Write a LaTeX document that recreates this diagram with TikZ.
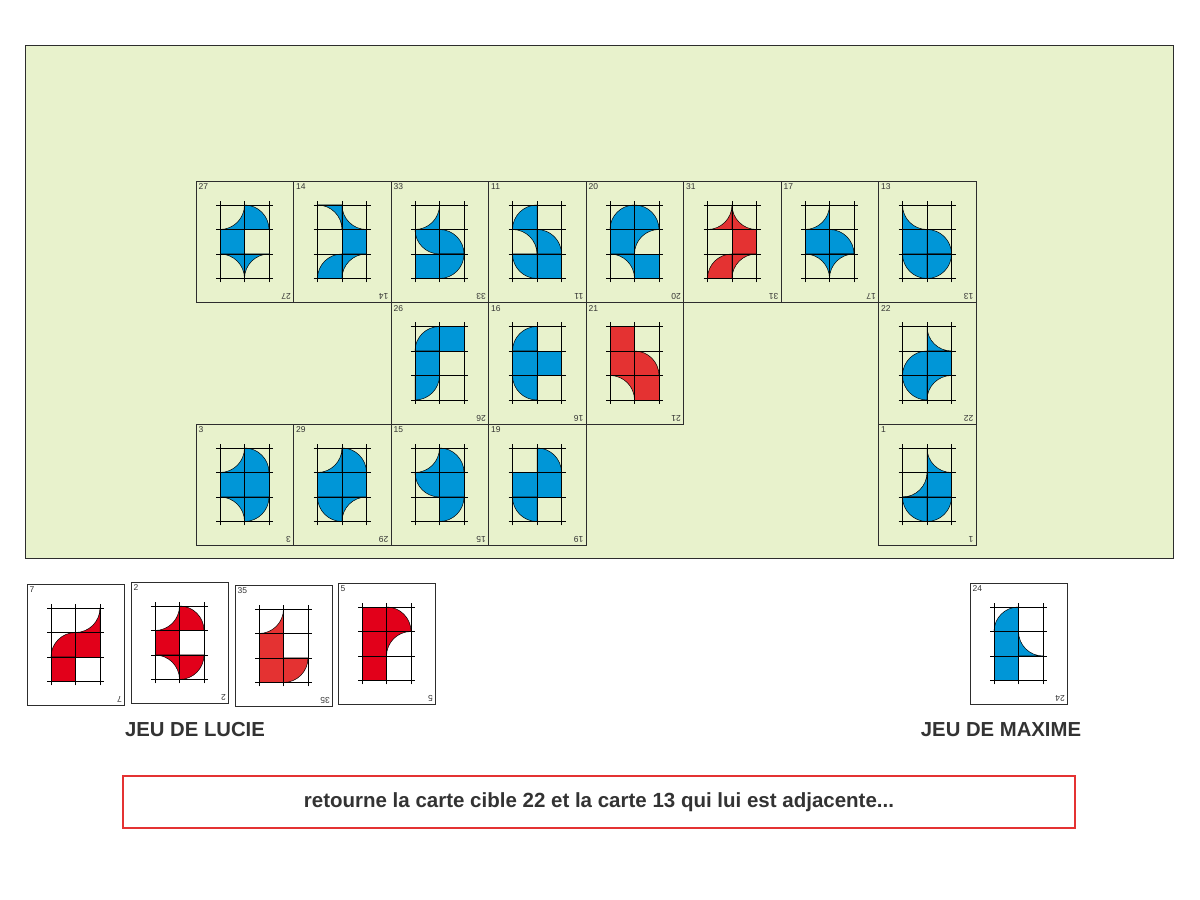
\documentclass[tikz,border=0pt]{standalone}
\usepackage{fontspec}
\setmainfont{Liberation Sans}
\definecolor{vert}{RGB}{232,242,204}
\definecolor{bleu}{RGB}{0,150,215}
\definecolor{rouge}{RGB}{228,50,50}
\definecolor{rougevif}{RGB}{226,0,26}
\definecolor{cadre}{RGB}{45,45,45}
\definecolor{texte}{RGB}{51,51,51}
\def\tc{24.5}
\def\vide{E}
% formes d'une case, coin bas gauche en (0,0)
\def\formeF{(0,0) rectangle (\tc,\tc)}
\def\formeQbl{(0,0) -- (\tc,0) arc[start angle=0,end angle=90,radius=\tc] -- cycle}
\def\formeQbr{(\tc,0) -- (\tc,\tc) arc[start angle=90,end angle=180,radius=\tc] -- cycle}
\def\formeQtl{(0,\tc) -- (0,0) arc[start angle=270,end angle=360,radius=\tc] -- cycle}
\def\formeQtr{(\tc,\tc) -- (\tc,0) arc[start angle=270,end angle=180,radius=\tc] -- cycle}
\def\formeCbl{(\tc,\tc) -- (0,\tc) arc[start angle=90,end angle=0,radius=\tc] -- cycle}
\def\formeCbr{(0,\tc) -- (0,0) arc[start angle=180,end angle=90,radius=\tc] -- cycle}
\def\formeCtl{(\tc,0) -- (\tc,\tc) arc[start angle=0,end angle=-90,radius=\tc] -- cycle}
\def\formeCtr{(0,0) -- (\tc,0) arc[start angle=270,end angle=180,radius=\tc] -- cycle}
\tikzset{
  carte/.style={draw=cadre, line width=.9pt, minimum width=97.5pt, minimum height=121.5pt,
    inner sep=0pt, outer sep=0pt, anchor=south west},
  numero/.style={text=texte, font=\fontsize{8.5}{9}\selectfont, inner sep=2.5pt},
  forme/.style={draw=black, line width=.5pt},
  grille/.style={draw=black, line width=.8pt},
  titre/.style={text=texte, font=\fontsize{20.3}{22}\selectfont\bfseries}
}
% \carte{x}{y}{numero}{fond}{couleur}{cases}
\newcommand{\carte}[6]{
  \begin{scope}[shift={(#1,#2)}]
    \node[carte, fill=#4] (c#3) at (0,0) {};
    \node[numero, anchor=north west] (h#3) at (c#3.north west) {#3};
    \node[numero, anchor=north west, rotate=180] (b#3) at (c#3.south east) {#3};
    \foreach \c [count=\i from 0] in {#6} {
      \pgfmathtruncatemacro\col{mod(\i,2)}
      \pgfmathtruncatemacro\lig{2-div(\i,2)}
      \ifx\c\vide\else
        \expandafter\let\expandafter\laforme\csname forme\c\endcsname
        \filldraw[forme, fill=#5, shift={(24+\col*\tc,24+\lig*\tc)}] \laforme;
      \fi
    }
    \foreach \x in {0,1,2}
      \draw[grille] (24+\x*\tc,20) -- (24+\x*\tc,101.5);
    \foreach \y in {0,1,2,3}
      \draw[grille] (20,24+\y*\tc) -- (77,24+\y*\tc);
  \end{scope}
}
\begin{document}
\begin{tikzpicture}[x=1pt,y=1pt]
	\useasboundingbox (0,0) rectangle (1200,900);
	\node[draw=cadre, line width=.6pt, fill=vert, minimum width=1148pt, minimum height=513pt,
	  inner sep=0pt, anchor=north west] (plateau) at (25,855) {};
	% premiere rangee
	\carte{196}{597.5}{27}{vert}{bleu}{Ctl,Qbl,F,E,Cbl,Cbr}
	\carte{293.5}{597.5}{14}{vert}{bleu}{Cbl,Ctr,E,F,Qbr,Cbr}
	\carte{391}{597.5}{33}{vert}{bleu}{Ctl,E,Qtr,Qbl,F,Qtl}
	\carte{488.5}{597.5}{11}{vert}{bleu}{Qbr,E,Cbl,Qbl,Qtr,F}
	\carte{586}{597.5}{20}{vert}{bleu}{Qbr,Qbl,F,Cbr,Cbl,F}
	\carte{683.5}{597.5}{31}{vert}{rouge}{Ctl,Ctr,E,F,Qbr,Cbr}
	\carte{781}{597.5}{17}{vert}{bleu}{Ctl,E,F,Qbl,Cbl,Cbr}
	\carte{878.5}{597.5}{13}{vert}{bleu}{Ctr,E,F,Qbl,Qtr,Qtl}
	% deuxieme rangee
	\carte{391}{476}{26}{vert}{bleu}{Qbr,F,F,E,Qtl,E}
	\carte{488.5}{476}{16}{vert}{bleu}{Qbr,E,F,F,Qtr,E}
	\carte{586}{476}{21}{vert}{rouge}{F,E,F,Qbl,Cbl,F}
	\carte{878.5}{476}{22}{vert}{bleu}{E,Ctr,Qbr,F,Qtr,Cbr}
	% troisieme rangee
	\carte{196}{354.5}{3}{vert}{bleu}{Ctl,Qbl,F,F,Cbl,Qtl}
	\carte{293.5}{354.5}{29}{vert}{bleu}{Ctl,Qbl,F,F,Qtr,Cbr}
	\carte{391}{354.5}{15}{vert}{bleu}{Ctl,Qbl,Qtr,F,E,Qtl}
	\carte{488.5}{354.5}{19}{vert}{bleu}{E,Qbl,F,F,Qtr,E}
	\carte{878.5}{354.5}{1}{vert}{bleu}{E,Ctr,Ctl,F,Qtr,Qtl}
	% jeux des joueurs
	\carte{27}{194.5}{7}{white}{rougevif}{E,Ctl,Qbr,F,F,E}
	\carte{131}{196.5}{2}{white}{rougevif}{Ctl,Qbl,F,E,Cbl,Qtl}
	\carte{235}{193.5}{35}{white}{rouge}{Ctl,E,F,E,F,Qtl}
	\carte{338}{195.5}{5}{white}{rougevif}{F,Qbl,F,Cbr,F,E}
	\carte{970}{195.5}{24}{white}{bleu}{Qbr,E,F,Ctr,F,E}
	\node[titre] (lucie) at (195,170) {JEU DE LUCIE};
	\node[titre] (maxime) at (1001,170) {JEU DE MAXIME};
	\node[draw=rouge, line width=1.1pt, minimum width=952pt, minimum height=52pt, text=texte,
	  font=\fontsize{20.5}{22}\selectfont\bfseries] (consigne) at (599,98)
	  {retourne la carte cible 22 et la carte 13 qui lui est adjacente...};
\end{tikzpicture}
\end{document}
